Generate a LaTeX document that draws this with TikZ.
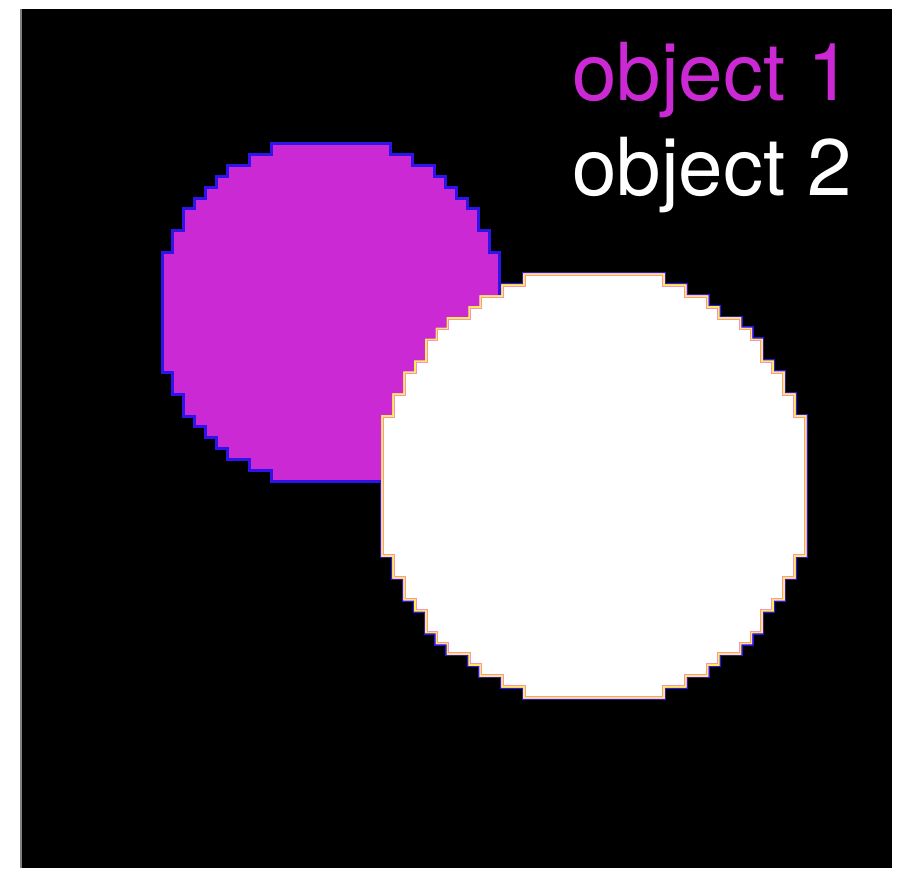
\documentclass[tikz,border=0pt]{standalone}
\usepackage{fontspec}
\setmainfont{TeX Gyre Heros}
\definecolor{objmag}{RGB}{203,41,212}
\definecolor{edgeblue}{RGB}{45,20,235}
\definecolor{edgeyel}{RGB}{255,236,80}
\definecolor{edgepink}{RGB}{245,150,185}
\newcommand\buildpix[4]{%
  \gdef\pixp{}%
  \pgfmathtruncatemacro\pixN{floor(#3)}%
  \pgfmathtruncatemacro\pixNN{-\pixN}%
  \foreach \k in {\pixNN,...,\pixN}{%
    \pgfmathsetmacro\pixM{floor(sqrt(#3*#3-\k*\k))}%
    \pgfmathsetmacro\pxr{#1+(\pixM+0.5)*#4}%
    \pgfmathsetmacro\pya{#2+(\k-0.5)*#4}%
    \pgfmathsetmacro\pyb{#2+(\k+0.5)*#4}%
    \xdef\pixp{\pixp(\pxr,\pya)--(\pxr,\pyb)--}%
  }%
  \foreach \k in {\pixNN,...,\pixN}{%
    \pgfmathsetmacro\pixM{floor(sqrt(#3*#3-\k*\k))}%
    \pgfmathsetmacro\pxl{#1-(\pixM+0.5)*#4}%
    \pgfmathsetmacro\pya{#2+(-\k-0.5)*#4}%
    \pgfmathsetmacro\pyb{#2+(-\k+0.5)*#4}%
    \xdef\pixp{\pixp(\pxl,\pyb)--(\pxl,\pya)--}%
  }%
}
\tikzset{
  magfill/.style={fill=objmag},
  magedge/.style={draw=edgeblue,line width=3},
  whiteouter/.style={draw=edgeblue,line width=3},
  whitefill/.style={fill=white},
  whiteinnerA/.style={draw=edgepink,line width=5},
  whiteinnerB/.style={draw=edgeyel,line width=3},
  label/.style={anchor=base west,inner sep=0pt,font=\fontsize{80}{96}\selectfont}
}
\begin{document}
\begin{tikzpicture}[x=1pt,y=-1pt,line join=miter]
\useasboundingbox (0,0) rectangle (899,868);
\fill[white] (0,0) rectangle (899,868);
\fill[black] (20,9) rectangle (892,868);
\draw[gray,line width=1.5] (20.75,9) -- (20.75,868);
% build paths
\buildpix{331}{312.5}{15.9}{10.9}
\global\let\magpath\pixp
\buildpix{594}{486}{19.95}{10.9}
\global\let\whpath\pixp
% white outer blue fringe (below magenta)
\edef\tmp{\noexpand\path[whiteouter] \whpath cycle;}\tmp
% magenta object
\edef\tmp{\noexpand\path[magfill,magedge] \magpath cycle;}\tmp
% white object
\begin{scope}
\edef\tmp{\noexpand\clip \whpath cycle;}\tmp
\edef\tmp{\noexpand\path[whitefill] \whpath cycle;}\tmp
\edef\tmp{\noexpand\path[whiteinnerA] \whpath cycle;}\tmp
\edef\tmp{\noexpand\path[whiteinnerB] \whpath cycle;}\tmp
\end{scope}
\node[label,text=objmag] (lab1) at (572,100) {object 1};
\node[label,text=white] (lab2) at (572,195) {object 2};
\end{tikzpicture}
\end{document}
